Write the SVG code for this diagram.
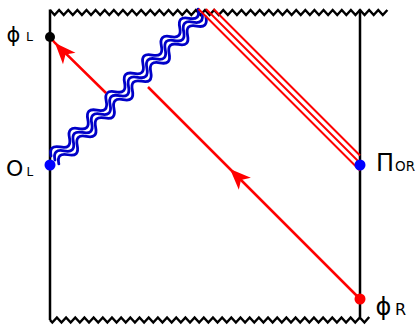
<svg xmlns="http://www.w3.org/2000/svg" width="417" height="326" viewBox="0 0 417 326">
<style>
  .frame{fill:none;stroke:#000;stroke-width:2.5;stroke-linejoin:miter}
  .red{fill:none;stroke:#f00;stroke-width:2.5}
  .red3{fill:none;stroke:#f00;stroke-width:2}
  .wave{fill:none;stroke:#0000c8;stroke-width:2.8;stroke-linecap:round}
  .arrow{marker-mid:url(#ah)}
  text{font-family:"DejaVu Sans",sans-serif;fill:#000}
</style>
<defs>
  <marker id="ah" markerUnits="userSpaceOnUse" markerWidth="26" markerHeight="22" viewBox="-22 -11 26 22" refX="0" refY="0" orient="auto">
    <path d="M0,0 L-21,-8.5 L-15.5,0 L-21,8.5 Z" fill="#f00"/>
  </marker>
  <path id="w" d="M7,0 q6.5,-10 13,0 t13,0 t13,0 t13,0 t13,0 t13,0 t13,0 t13,0 t13,0 t13,0 t13,0 t13,0 t13,0 t13,0 t13,0 t13,0"/>
</defs>

<g id="frame" class="frame">
  <path d="M50,9.5 V320"/>
  <path d="M360,9.5 V317"/>
  <path d="M50,10 l4.559,5 4.559,-5 4.559,5 4.559,-5 4.559,5 4.559,-5 4.559,5 4.559,-5 4.559,5 4.559,-5 4.559,5 4.559,-5 4.559,5 4.559,-5 4.559,5 4.559,-5 4.559,5 4.559,-5 4.559,5 4.559,-5 4.559,5 4.559,-5 4.559,5 4.559,-5 4.559,5 4.559,-5 4.559,5 4.559,-5 4.559,5 4.559,-5 4.559,5 4.559,-5 4.559,5 4.559,-5 4.559,5 4.559,-5 4.559,5 4.559,-5 4.559,5 4.559,-5 4.559,5 4.559,-5 4.559,5 4.559,-5 4.559,5 4.559,-5 4.559,5 4.559,-5 4.559,5 4.559,-5 4.559,5 4.559,-5 4.559,5 4.559,-5 4.559,5 4.559,-5 4.559,5 4.559,-5 4.559,5 4.559,-5 4.559,5 4.559,-5 4.559,5 4.559,-5 4.559,5 4.559,-5 4.559,5 4.559,-5 4.559,5 4.559,-5 4.559,5 4.559,-5 4.559,5 4.559,-5"/>
  <path d="M50,320 l2.3,2.5 4.59,-5 4.59,5 4.59,-5 4.59,5 4.59,-5 4.59,5 4.59,-5 4.59,5 4.59,-5 4.59,5 4.59,-5 4.59,5 4.59,-5 4.59,5 4.59,-5 4.59,5 4.59,-5 4.59,5 4.59,-5 4.59,5 4.59,-5 4.59,5 4.59,-5 4.59,5 4.59,-5 4.59,5 4.59,-5 4.59,5 4.59,-5 4.59,5 4.59,-5 4.59,5 4.59,-5 4.59,5 4.59,-5 4.59,5 4.59,-5 4.59,5 4.59,-5 4.59,5 4.59,-5 4.59,5 4.59,-5 4.59,5 4.59,-5 4.59,5 4.59,-5 4.59,5 4.59,-5 4.59,5 4.59,-5 4.59,5 4.59,-5 4.59,5 4.59,-5 4.59,5 4.59,-5 4.59,5 4.59,-5 4.59,5 4.59,-5 4.59,5 4.59,-5 4.59,5 4.59,-5 4.59,5 4.59,-5 4.59,5 4.8,-5.5"/>
</g>

<g id="connectors">
  <g id="shockwave" transform="translate(50,165) rotate(-45)">
    <use href="#w" class="wave" transform="translate(0,-5.5)"/>
    <use href="#w" class="wave"/>
    <use href="#w" class="wave" transform="translate(0,5.5)"/>
  </g>
  <g id="triple">
    <path class="red3" d="M213.5,9 L360,155.5"/>
    <path class="red3" d="M206,9 L360,163"/>
    <path class="red3" d="M198.5,9 L360,170.5"/>
  </g>
  <path id="ray-upper" class="red arrow" d="M106,93 L55,43 L50,37"/>
  <path id="ray-lower" class="red arrow" d="M360,299 L230,169 L148,87"/>
</g>

<g id="phiL">
  <circle cx="50" cy="37" r="5" fill="#000"/>
  <text x="6.5" y="41.5" font-size="21">ϕ</text>
  <text x="26" y="40.5" font-size="12.5">L</text>
</g>
<g id="OL">
  <circle cx="50" cy="165" r="5.5" fill="#00f"/>
  <text x="6" y="176" font-size="22">O</text>
  <text x="26.5" y="176" font-size="12">L</text>
</g>
<g id="PiOR">
  <circle cx="360" cy="165" r="5.5" fill="#00f"/>
  <text x="376" y="171" font-size="24">Π</text>
  <text x="395" y="171" font-size="13.5">OR</text>
</g>
<g id="phiR">
  <circle cx="360" cy="299" r="5.5" fill="#f00"/>
  <text x="375.5" y="315" font-size="24">ϕ</text>
  <text x="395" y="314.5" font-size="16">R</text>
</g>
</svg>
